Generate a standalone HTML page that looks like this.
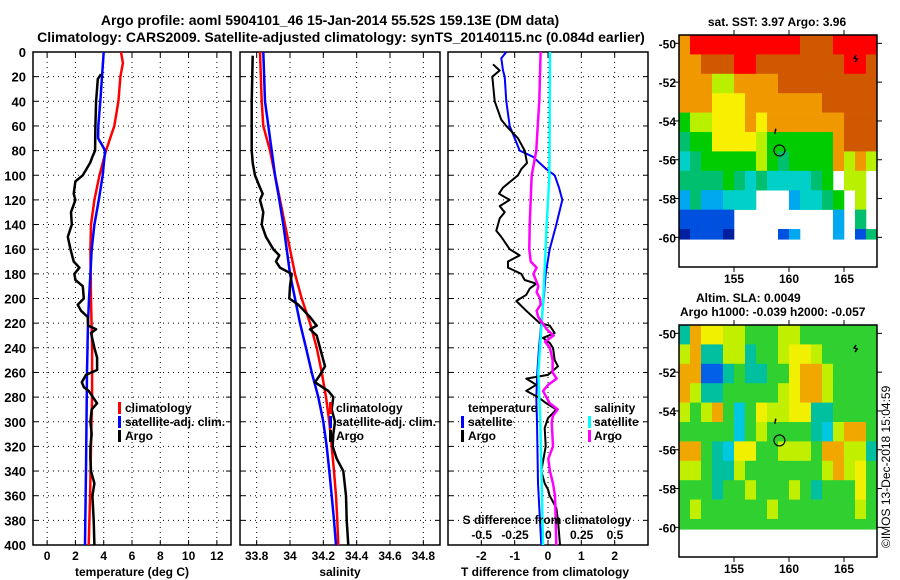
<!DOCTYPE html>
<html><head><meta charset="utf-8"><style>
html,body{margin:0;padding:0;background:#fff;}
svg{display:block;font-family:"Liberation Sans",Arial,sans-serif;font-weight:bold;}
</style></head><body>
<svg id="c" width="900" height="580" viewBox="0 0 900 580"></svg>
<script>
// ---------- data ----------
const climTDepth=[0,9,20,40,60,80,100,120,140,160,200,240,280,320,360,400];
const climTVal=[5.22,5.36,5.18,5.04,4.75,4.16,3.7,3.34,3.1,3.06,3.1,3.18,3.18,3.1,3.04,2.94];
const satTDepth=[0,20,40,60,70,75,80,100,120,140,160,180,200,220,260,300,340,380,400];
const satTVal=[4.0,3.88,3.76,3.62,3.6,3.86,4.1,3.93,3.65,3.34,3.15,3.06,2.96,2.89,2.82,2.78,2.75,2.7,2.68];
const argoTDepth=[18,22,40,60,70,80,85,90,100,105,115,120,130,140,150,160,170,175,180,185,190,200,205,210,215,222,225,228,240,248,258,262,268,272,275,285,290,300,310,320,330,340,350,360,380,400];
const argoTVal=[3.81,3.58,3.46,3.41,3.4,3.39,3.2,3.04,2.52,2.0,1.88,2.0,1.69,1.74,1.46,1.65,1.88,2.28,1.93,2.0,2.52,2.59,2.16,2.4,2.87,2.9,3.46,3.1,3.34,3.53,3.53,2.75,2.45,2.6,2.94,3.53,3.15,3.06,3.15,3.06,3.06,3.1,3.34,3.2,3.29,3.34];
const climSDepth=[0,40,60,80,100,120,140,160,180,200,220,240,260,280,300,320,340,360,380,400];
const climSVal=[33.82,33.83,33.84,33.88,33.91,33.94,33.97,34.0,34.03,34.07,34.12,34.16,34.19,34.216,34.236,34.25,34.264,34.276,34.284,34.29];
const satSDepth=[0,40,80,100,120,140,160,180,200,220,240,260,280,300,320,340,360,380,400];
const satSVal=[33.84,33.85,33.89,33.91,33.936,33.96,33.98,34.0,34.03,34.06,34.096,34.13,34.17,34.2,34.22,34.236,34.25,34.264,34.276];
const argoSDepth=[3,40,60,80,90,100,110,115,120,130,140,150,160,165,170,175,180,190,200,205,215,222,225,230,240,255,262,268,275,280,290,300,310,320,330,340,360,380,400];
const argoSVal=[33.776,33.77,33.77,33.77,33.776,33.79,33.82,33.836,33.82,33.84,33.83,33.856,33.9,33.936,33.916,33.94,34.01,34.0,33.996,34.05,34.12,34.16,34.12,34.16,34.18,34.21,34.18,34.15,34.23,34.26,34.25,34.27,34.26,34.256,34.28,34.32,34.336,34.34,34.35];
const dSatTDepth=[0,5,15,20,40,60,80,85,95,100,110,120,140,160,180,200,220,240,260,280,300,350,400];
const dSatTVal=[-1.25,-1.4,-1.35,-1.3,-1.25,-1.15,-0.85,-0.45,-0.05,0.2,0.33,0.43,0.25,0.05,-0.07,-0.13,-0.2,-0.27,-0.32,-0.35,-0.33,-0.3,-0.2];
const dSatSDepth=[0,100,140,200,260,300,350,400];
const dSatSVal=[0.0125,0.008,-0.0125,-0.0375,-0.075,-0.06,-0.05,-0.04];
const dArgoSDepth=[0,40,60,80,100,120,140,160,170,175,180,190,195,200,205,210,215,225,230,235,240,250,260,265,270,275,285,290,295,300,320,330,340,350,360,380,400];
const dArgoSVal=[-0.058,-0.068,-0.08,-0.09,-0.125,-0.132,-0.14,-0.143,-0.132,-0.088,-0.112,-0.075,-0.088,-0.062,-0.058,-0.088,-0.075,-0.012,0.04,-0.025,0.012,0.032,0.032,0.062,0.0,-0.04,0.01,0.07,0.035,0.025,0.035,0.0,0.012,0.035,0.05,0.055,0.06];
const dArgoTDepth=[10,15,20,40,55,60,70,80,90,95,100,110,115,120,125,130,135,140,145,150,160,165,170,175,180,185,188,192,197,202,210,220,222,228,232,236,240,250,255,262,265,270,275,280,285,290,293,297,305,320,340,350,355,360,370,380,400];
const dArgoTVal=[-1.65,-1.45,-1.67,-1.6,-1.4,-1.25,-0.9,-0.7,-0.63,-0.8,-0.9,-1.35,-1.47,-1.15,-1.45,-1.3,-1.45,-1.5,-1.55,-1.4,-1.15,-0.85,-1.2,-1.2,-0.8,-0.7,-0.35,-0.55,-0.65,-0.95,-0.65,-0.25,0.05,0.2,-0.15,0.05,0.15,0.2,0.3,0.0,-0.65,-0.35,-0.65,-0.3,-0.05,0.25,0.15,0.0,-0.1,-0.07,-0.2,-0.1,0.0,0.05,0.25,0.3,0.36];
const tTicks=[0,2,4,6,8,10,12];
const sTicks=[33.8,34,34.2,34.4,34.6,34.8];
const dTTicks=[-2,-1,0,1,2];
const dSTicks=[-0.5,-0.25,0,0.25,0.5];
const dSTickLabels=["-0.5","-0.25","0","0.25","0.5"];
const depthTicks=[0,20,40,60,80,100,120,140,160,180,200,220,240,260,280,300,320,340,360,380,400];
const lonTicks=[155,160,165];
const latTicks=[-50,-52,-54,-56,-58,-60];
const sstGrid=[
"oRRRRRRRRRROOORRRR",
"ooOOORROOOOOOOORRO",
"oooyyooooOOOOOOOOO",
"oooYYYoooooooOOOOO",
"GyyYYYoYoooooooOOO",
"gGGYYYYyGGGGGGoOOO",
"CgGGGGGyGgGGGGoyoy",
"ggggGgCgCCCCgGWyyW",
"cgccCCCWWWcCCgGWyW",
"BBBBBWWWWWWWWWcWgW",
"DBBBDWWWWBcWWWcWBg"];
const slaGrid=[
"CoYYyyGGGyyGGGGGGG",
"yoCCyyCGGyYYyGGGGG",
"ooBBCGCCGGYooyGGGG",
"oyCCGGGGGyYooyGGGG",
"yGyoGcGYyyYYCCGGGG",
"GGGGGcGyGGGGCcyooG",
"ooGCcYYGGyyyGooyyC",
"yyGCCyGGGGGGGyoyYG",
"GGGCGGyGGGyGCGGGYG",
"GyGGGGGGyGGGGGGGyG",
"GGGGGGGGGGGGGGGGGG"];
const argoLon=159.13, argoLat=-55.52;

// ---------- helpers ----------
const svg=document.getElementById('c');
const NS='http://www.w3.org/2000/svg';
function mk(tag,attrs,parent){const e=document.createElementNS(NS,tag);for(const k in attrs)e.setAttribute(k,attrs[k]);(parent||svg).appendChild(e);return e;}
function txt(x,y,s,anchor,size,name,parent){const t=mk('text',{x:x,y:y,'text-anchor':anchor||'start','font-size':size||12},parent);t.textContent=s;


return t;}
const yD=d=>52+d*493/400;
const P1=v=>33+(v+1)*198/14;
const P2=v=>240+(v-33.7)*200/1.2;
const P3T=v=>448+(v+3)*200/6;
const P3S=v=>548.33+v*133.33;

function panel(x0,x1,name,gridX){
  const g=mk('g',{});
  
  
  depthTicks.forEach((d,i)=>{if(i>0&&i<depthTicks.length-1){mk('line',{x1:x0,x2:x1,y1:yD(d),y2:yD(d),stroke:'#000','stroke-dasharray':'1,4','stroke-width':1},g);
   mk('line',{x1:x0,x2:x0+5,y1:yD(d),y2:yD(d),stroke:'#000'},g);mk('line',{x1:x1-5,x2:x1,y1:yD(d),y2:yD(d),stroke:'#000'},g);}});
  gridX.forEach(x=>{mk('line',{x1:x,x2:x,y1:52,y2:545,stroke:'#000','stroke-dasharray':'1,4'},g);
   mk('line',{x1:x,x2:x,y1:52,y2:57,stroke:'#000'},g);mk('line',{x1:x,x2:x,y1:540,y2:545,stroke:'#000'},g);});
  mk('rect',{x:x0,y:52,width:x1-x0,height:493,fill:'none',stroke:'#000','stroke-width':1.5},g);
  return g;
}
function line(dep,val,fx,color,name,w){
  const pts=dep.map((d,i)=>fx(val[i]).toFixed(1)+','+yD(d).toFixed(1)).join(' ');
  const p=mk('polyline',{points:pts,fill:'none',stroke:color,'stroke-width':w||2.5,'stroke-linejoin':'round'});
  
  
}
function legTick(x,y,color,name){const r=mk('rect',{x:x,y:y-10,width:3,height:12,fill:color});
 
 }

// titles
txt(330,25,'Argo profile: aoml 5904101_46 15-Jan-2014 55.52S 159.13E (DM data)','middle',14,'title-line-1');
txt(341,42,'Climatology: CARS2009. Satellite-adjusted climatology: synTS_20140115.nc (0.084d earlier)','middle',14,'title-line-2');

// panel 1
panel(33,231,'temperature-panel',tTicks.map(P1));
depthTicks.forEach(d=>txt(26,yD(d)+5,String(d),'end',13,'depth-tick-label'));
tTicks.forEach(t=>txt(P1(t),560,String(t),'middle',12,'temperature-tick-label'));
txt(132,576,'temperature (deg C)','middle',12,'x-axis-title-temperature');
line(climTDepth,climTVal,P1,'#ff0000','climatology-temperature-line');
line(satTDepth,satTVal,P1,'#0000ff','satellite-temperature-line');
line(argoTDepth,argoTVal,P1,'#000','argo-temperature-line');
legTick(118,412,'#ff0000','legend-climatology-swatch');txt(125,412,'climatology','start',12,'legend-climatology');
legTick(118,426,'#0000ff','legend-satellite-swatch');txt(125,426,'satellite-adj. clim.','start',12,'legend-satellite');
legTick(118,440,'#000','legend-argo-swatch');txt(125,440,'Argo','start',12,'legend-argo');

// panel 2
panel(240,440,'salinity-panel',sTicks.map(P2));
sTicks.forEach(s=>txt(P2(s),560,String(s),'middle',12,'salinity-tick-label'));
txt(340,576,'salinity','middle',12,'x-axis-title-salinity');
line(climSDepth,climSVal,P2,'#ff0000','climatology-salinity-line');
line(satSDepth,satSVal,P2,'#0000ff','satellite-salinity-line');
line(argoSDepth,argoSVal,P2,'#000','argo-salinity-line');
legTick(329,412,'#ff0000','legend2-climatology-swatch');txt(336,412,'climatology','start',12,'legend2-climatology');
legTick(329,426,'#0000ff','legend2-satellite-swatch');txt(336,426,'satellite-adj. clim.','start',12,'legend2-satellite');
legTick(329,440,'#000','legend2-argo-swatch');txt(336,440,'Argo','start',12,'legend2-argo');

// panel 3
panel(448,648,'difference-panel',dTTicks.map(P3T));
dTTicks.forEach(t=>txt(P3T(t),560,String(t),'middle',12,'t-difference-tick-label'));
txt(545,576,'T difference from climatology','middle',12,'x-axis-title-t-difference');
line(dSatTDepth,dSatTVal,P3T,'#0000ff','satellite-t-difference-line',2);
line(dArgoTDepth,dArgoTVal,P3T,'#000','argo-t-difference-line',2);
line(dSatSDepth,dSatSVal,P3S,'#00ffff','satellite-s-difference-line',2.5);
line(dArgoSDepth,dArgoSVal,P3S,'#ff00ff','argo-s-difference-line',2.5);
txt(468,412,'temperature','start',12,'legend3-temperature-heading');
legTick(461,426,'#0000ff','legend3-t-satellite-swatch');txt(468,426,'satellite','start',12,'legend3-t-satellite');
legTick(461,440,'#000','legend3-t-argo-swatch');txt(468,440,'Argo','start',12,'legend3-t-argo');
txt(594,412,'salinity','start',12,'legend3-salinity-heading');
legTick(588,426,'#00ffff','legend3-s-satellite-swatch');txt(594,426,'satellite','start',12,'legend3-s-satellite');
legTick(588,440,'#ff00ff','legend3-s-argo-swatch');txt(594,440,'Argo','start',12,'legend3-s-argo');
txt(547,524,'S difference from climatology','middle',12,'s-difference-axis-title');
dSTicks.forEach((s,i)=>txt(P3S(s),539,dSTickLabels[i],'middle',12,'s-difference-tick-label'));

// maps
const sstCol={R:'#ff0000',O:'#d05800',o:'#f09800',Y:'#f8f000',y:'#b8f000',G:'#00cc00',g:'#00c070',C:'#00d0c8',c:'#00a8f0',B:'#0050e0',D:'#0020a0',W:'#ffffff'};
const slaCol={G:'#30d030',y:'#c0f000',Y:'#f0f000',o:'#f0a800',C:'#00c0a0',c:'#00c8e0',B:'#0060e8'};
function map(top,grid,cols,name,axisName){
  const L=679,R=877,H=232;
  const mx=lon=>L+(lon-150)*11;
  const my=lat=>top+(-49.57-lat)*19.4;
  const g=mk('g',{});
  
  
  const bottom=my(-60.1);
  grid.forEach((row,j)=>{for(let i=0;i<row.length;i++){const ch=row[i];if(ch==='W')continue;
    const y0=my(-49.57-j),y1=Math.min(my(-50.57-j),bottom);if(y1<=y0)continue;
    const r=mk('rect',{x:mx(150+i),y:y0,width:11.3,height:y1-y0+0.3,fill:cols[ch]},g);
    
    }});
  mk('rect',{x:L,y:top,width:R-L,height:H,fill:'none',stroke:'#000','stroke-width':1.5},g);
  latTicks.forEach(l=>{const y=my(l);mk('line',{x1:L-5,x2:L,y1:y,y2:y,stroke:'#000'},g);mk('line',{x1:R,x2:R+5,y1:y,y2:y,stroke:'#000'},g);
    txt(L-3,y+5,String(l),'end',12,axisName+'-lat-tick-label');});
  lonTicks.forEach(l=>{const x=mx(l);mk('line',{x1:x,x2:x,y1:top-5,y2:top,stroke:'#000'},g);mk('line',{x1:x,x2:x,y1:top+H,y2:top+H+5,stroke:'#000'},g);
    txt(x,top+H+16,String(l),'middle',12,axisName+'-lon-tick-label');});
  const c=mk('circle',{cx:mx(argoLon),cy:my(argoLat),r:5.5,fill:'none',stroke:'#000','stroke-width':1.2},g);
  
  
  mk('path',{d:`M${mx(158.8)} ${my(-54.4)} l-1 5`,stroke:'#000','stroke-width':1.5},g);
  mk('path',{d:`M${mx(166.1)} ${my(-50.6)} l-2 3 l3 1 l-2 3`,stroke:'#000','stroke-width':1.5,fill:'none'},g);
}
map(35,sstGrid,sstCol,'sst-map','sst-map');
txt(777,26,'sat. SST: 3.97 Argo: 3.96','middle',12,'sst-map-title');
map(325,slaGrid,slaCol,'sla-map','sla-map');
txt(696,302,'Altim. SLA: 0.0049','start',12,'sla-map-title');
txt(680,316,'Argo h1000: -0.039 h2000: -0.057','start',12,'sla-map-subtitle');
const cr=txt(0,0,'©IMOS 13-Dec-2018 15:04:59','start',12,'copyright-label');
cr.setAttribute('font-weight','normal');
cr.setAttribute('transform','translate(890,548) rotate(-90)');
</script>
</body></html>
